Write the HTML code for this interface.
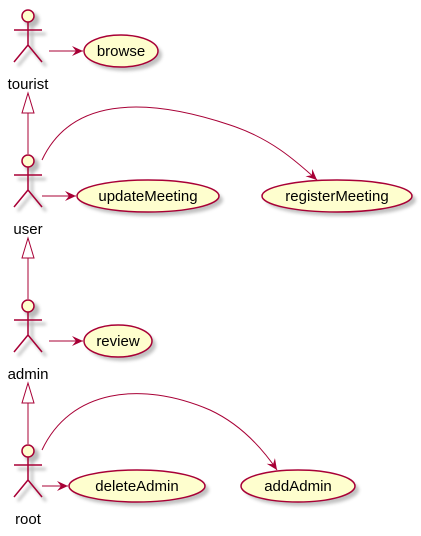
<!DOCTYPE html>
<html><head><meta charset="utf-8"><style>
html,body{margin:0;padding:0;background:#fff;}
svg{display:block;}
text{font-family:"Liberation Sans","DejaVu Sans",sans-serif;font-size:15px;fill:#000;}
</style></head><body>
<svg width="421" height="536" viewBox="0 0 421 536" xmlns="http://www.w3.org/2000/svg">
<defs>
<filter id="sh" x="-20%" y="-20%" width="150%" height="160%"><feGaussianBlur stdDeviation="1.6"/></filter>
<g id="actor">
  <g transform="translate(4,4)" opacity="0.5" filter="url(#sh)" stroke="#777" fill="none" stroke-width="2.5">
    <circle cx="0" cy="0" r="6" fill="#777"/><path d="M0,6 V29 M-14,14 H14 M0,29 L-14,46 M0,29 L14,46"/>
  </g>
  <circle cx="0" cy="0" r="6" fill="#FEFECE" stroke="#A80036" stroke-width="1.5"/>
  <path d="M0,6 V29 M-14,14 H14 M0,29 L-14,46 M0,29 L14,46" stroke="#A80036" stroke-width="1.5" fill="none"/>
</g>
<marker id="ar" viewBox="0 0 12 10" refX="11" refY="5" markerWidth="12" markerHeight="10" orient="auto" markerUnits="userSpaceOnUse">
  <path d="M0,0 L11,5 L0,10 L4,5 Z" fill="#A80036"/>
</marker>
</defs>

<use href="#actor" x="28" y="16"/>
<use href="#actor" x="28" y="161"/>
<use href="#actor" x="28" y="306"/>
<use href="#actor" x="28" y="451"/>
<text x="28" y="89" text-anchor="middle">tourist</text>
<text x="28" y="234" text-anchor="middle">user</text>
<text x="28" y="379" text-anchor="middle">admin</text>
<text x="28" y="524" text-anchor="middle">root</text>

<g stroke="#A80036" stroke-width="1" fill="none">
  <path d="M28,113 V154"/><path d="M28,93 L22,113 H34 Z" fill="#fff"/>
  <path d="M28,258 V299"/><path d="M28,238 L22,258 H34 Z" fill="#fff"/>
  <path d="M28,403 V444"/><path d="M28,383 L22,403 H34 Z" fill="#fff"/>
</g>

<g>
  <g opacity="0.45" filter="url(#sh)" fill="#777">
    <ellipse cx="125" cy="55" rx="37" ry="16"/>
    <ellipse cx="152" cy="200" rx="71" ry="16"/>
    <ellipse cx="341" cy="200" rx="75" ry="16"/>
    <ellipse cx="122" cy="345" rx="34" ry="16"/>
    <ellipse cx="141" cy="490" rx="68" ry="16"/>
    <ellipse cx="302" cy="490" rx="57" ry="16"/>
  </g>
  <g fill="#FEFECE" stroke="#A80036" stroke-width="1.5">
    <ellipse cx="121" cy="51" rx="37" ry="16"/>
    <ellipse cx="148" cy="196" rx="71" ry="16"/>
    <ellipse cx="337" cy="196" rx="75" ry="16"/>
    <ellipse cx="118" cy="341" rx="34" ry="16"/>
    <ellipse cx="137" cy="486" rx="68" ry="16"/>
    <ellipse cx="298" cy="486" rx="57" ry="16"/>
  </g>
  <text x="121" y="56" text-anchor="middle">browse</text>
  <text x="148" y="201" text-anchor="middle">updateMeeting</text>
  <text x="337" y="201" text-anchor="middle">registerMeeting</text>
  <text x="118" y="346" text-anchor="middle">review</text>
  <text x="137" y="491" text-anchor="middle">deleteAdmin</text>
  <text x="298" y="491" text-anchor="middle">addAdmin</text>
</g>

<g stroke="#A80036" stroke-width="1" fill="none" marker-end="url(#ar)">
  <path d="M49,51 H83"/>
  <path d="M42,196 H76"/>
  <path d="M49,341 H83"/>
  <path d="M42,486 H68"/>
  <path d="M42,160 C70,100 140,95 230,125 C270,138 295,160 317,180"/>
  <path d="M42,450 C70,390 140,380 210,410 C240,424 262,448 277,470"/>
</g>
</svg>
</body></html>
